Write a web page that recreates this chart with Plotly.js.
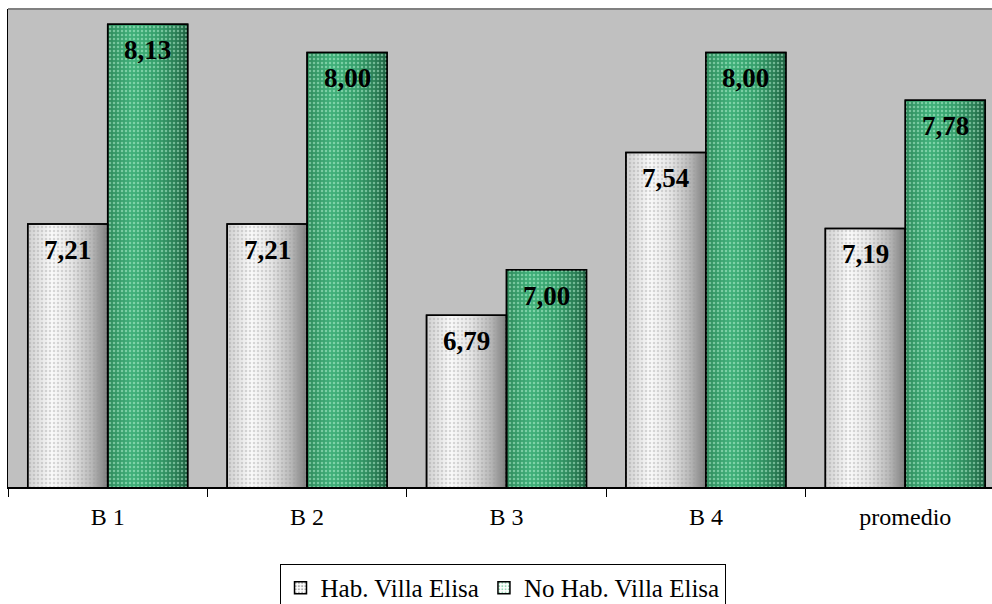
<!DOCTYPE html>
<html>
<head>
<meta charset="utf-8">
<script src="https://cdn.plot.ly/plotly-3.0.1.min.js"></script>
<style>
html,body{margin:0;padding:0;overflow:hidden;background:#fff;width:992px;height:604px;}
#chart{width:1005px;height:604px;}
</style>
</head>
<body>
<div id="chart"></div>
<script>
// ---- data ----
const categories = ['B 1', 'B 2', 'B 3', 'B 4', 'promedio'];
const habValues = [7.21, 7.21, 6.79, 7.54, 7.19];
const noHabValues = [8.13, 8.00, 7.00, 8.00, 7.78];
const seriesNames = ['Hab. Villa Elisa', 'No Hab. Villa Elisa'];

const fmt = v => v.toFixed(2).replace('.', ',');
const serif = 'Liberation Serif';
const W = 0.401;

const baseGray = {
  type: 'bar', x: categories, y: habValues, name: seriesNames[0],
  width: W, offset: -W,
  marker: {color: '#e4e4e4', line: {width: 1.5, color: '#000'},
           pattern: {shape: '.', fgcolor: '#b0b0b0', size: 4, solidity: 0.3}},
  showlegend: true, legendrank: 1
};
const baseGreen = {
  type: 'bar', x: categories, y: noHabValues, name: seriesNames[1],
  width: W, offset: 0,
  marker: {color: '#35a06c', line: {width: 1.5, color: '#000'},
           pattern: {shape: '.', fgcolor: '#9ad8b8', size: 4, solidity: 0.3}},
  showlegend: true, legendrank: 2
};
const dotsGray = {
  type: 'bar', x: categories, y: habValues, width: W, offset: -W,
  marker: {color: 'rgba(0,0,0,0)', line: {width: 1.5, color: '#000'},
           pattern: {shape: '.', fgcolor: 'rgba(150,150,150,0.35)', size: 4, solidity: 0.3}},
  showlegend: false
};
const dotsGreen = {
  type: 'bar', x: categories, y: noHabValues, width: W, offset: 0,
  marker: {color: 'rgba(0,0,0,0)', line: {width: 1.5, color: '#000'},
           pattern: {shape: '.', fgcolor: 'rgba(200,255,225,0.45)', size: 4, solidity: 0.3}},
  showlegend: false
};

const annotations = [];
categories.forEach((c, i) => {
  annotations.push({x: c, y: habValues[i], text: '<b>' + fmt(habValues[i]) + '</b>',
    xref: 'x', yref: 'y', showarrow: false, xshift: -40, yanchor: 'top', yshift: -9,
    font: {family: serif, size: 27, color: '#000'}});
  annotations.push({x: c, y: noHabValues[i], text: '<b>' + fmt(noHabValues[i]) + '</b>',
    xref: 'x', yref: 'y', showarrow: false, xshift: 40, yanchor: 'top', yshift: -9,
    font: {family: serif, size: 27, color: '#000'}});
});

const layout = {
  width: 1005, height: 604,
  margin: {l: 8, r: 0, t: 9, b: 117, pad: 0, autoexpand: false},
  paper_bgcolor: '#ffffff', plot_bgcolor: '#c0c0c0',
  barmode: 'overlay',
  font: {family: serif, color: '#000'},
  xaxis: {
    type: 'category', showline: true, linecolor: '#000', linewidth: 1.5,
    ticks: 'outside', ticklen: 8, tickcolor: '#000', tickwidth: 1, tickson: 'boundaries',
    tickfont: {family: serif, size: 24, color: '#000'}, ticklabelstandoff: 8,
    showgrid: false, zeroline: false, fixedrange: true, automargin: false
  },
  yaxis: {
    range: [6, 8.2], showline: true, linecolor: '#000', linewidth: 1.5,
    showticklabels: false, ticks: '', showgrid: false, zeroline: false, fixedrange: true,
    automargin: false
  },
  shapes: [{type: 'line', xref: 'paper', yref: 'paper', x0: 0, x1: 1, y0: 1, y1: 1,
            line: {color: '#808080', width: 2}}],
  annotations: annotations,
  showlegend: true,
  legend: {orientation: 'h', x: 0.496, xanchor: 'center', y: -0.161, yanchor: 'top',
           bgcolor: '#ffffff', bordercolor: '#000', borderwidth: 1,
           font: {family: serif, size: 25, color: '#000'}, traceorder: 'normal',
           itemwidth: 30}
};

Plotly.newPlot('chart', [baseGray, baseGreen, dotsGray, dotsGreen], layout,
  {staticPlot: true, displayModeBar: false}).then(gd => {
  const svg = gd.querySelector('svg.main-svg');
  const NS = 'http://www.w3.org/2000/svg';
  let defs = svg.querySelector('defs');
  function grad(id, stops) {
    const g = document.createElementNS(NS, 'linearGradient');
    g.setAttribute('id', id);
    g.setAttribute('x1', '0'); g.setAttribute('y1', '0');
    g.setAttribute('x2', '1'); g.setAttribute('y2', '0');
    stops.forEach(s => {
      const st = document.createElementNS(NS, 'stop');
      st.setAttribute('offset', s[0]);
      st.setAttribute('stop-color', s[1]);
      g.appendChild(st);
    });
    defs.appendChild(g);
  }
  grad('gradGray', [['0', '#cfcfcf'], ['0.3', '#fafafa'], ['0.55', '#e6e6e6'], ['0.8', '#b8b8b8'], ['1', '#7c7c7c']]);
  grad('gradGreen', [['0', '#2f8a5c'], ['0.3', '#40b07a'], ['0.6', '#36a06c'], ['0.85', '#2a7e55'], ['1', '#1b5e3e']]);
  const traces = gd.querySelectorAll('.barlayer .trace.bars');
  if (traces[0]) traces[0].querySelectorAll('path').forEach(p => p.style.fill = 'url(#gradGray)');
  if (traces[1]) traces[1].querySelectorAll('path').forEach(p => p.style.fill = 'url(#gradGreen)');
});
</script>
</body>
</html>
